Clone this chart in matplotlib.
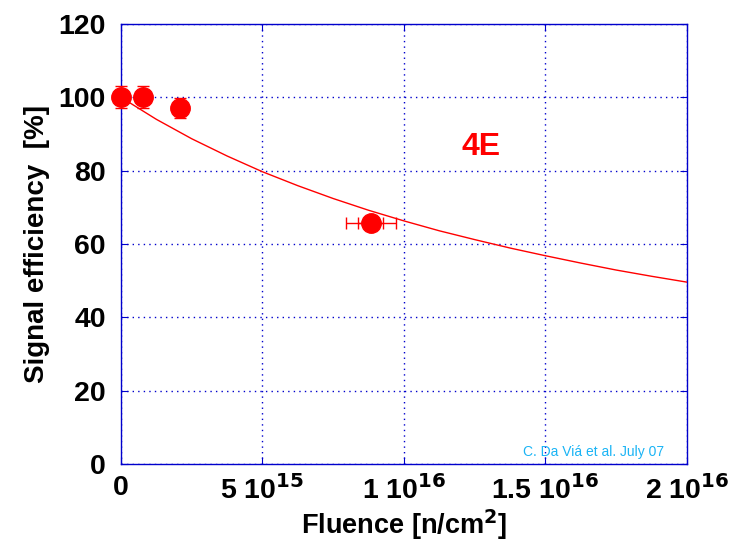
import matplotlib
matplotlib.use("Agg")
import matplotlib.pyplot as plt
from matplotlib.ticker import FixedLocator, FixedFormatter

plt.rcParams['font.family'] = ['Liberation Sans', 'DejaVu Sans']

# Measured points
fluence = [0.0, 0.76e15, 2.08e15, 8.82e15]
efficiency = [100.0, 100.0, 97.0, 65.8]
eff_err = [3.0, 3.0, 2.7, 0.0]
flu_err_outer = [0.0, 0.0, 0.0, 0.88e15]
flu_err_inner = [0.0, 0.0, 0.0, 0.44e15]

# Trapping fit curve
fit_fluence = [0.0, 1.25e15, 2.5e15, 3.75e15, 5.0e15, 6.25e15, 7.5e15, 8.75e15,
               1.0e16, 1.125e16, 1.25e16, 1.375e16, 1.5e16, 1.625e16, 1.75e16,
               1.875e16, 2.0e16]
fit_eff = [100.0, 94.0, 88.7, 84.0, 79.7, 75.9, 72.4, 69.2, 66.3, 63.6, 61.2,
           58.9, 56.8, 54.8, 52.9, 51.2, 49.6]

x_ticks = [0, 5e15, 1e16, 1.5e16, 2e16]
x_labels = ['0', r'5 10$^{\mathbf{15}}$', r'1 10$^{\mathbf{16}}$',
            r'1.5 10$^{\mathbf{16}}$', r'2 10$^{\mathbf{16}}$']
y_ticks = [0, 20, 40, 60, 80, 100, 120]

red = '#ff0000'
blue = '#0000cc'

fig = plt.figure(figsize=(7.32, 5.44), dpi=100)
ax = fig.add_axes([0.1653, 0.147, 0.7732, 0.8089])

ax.plot(fit_fluence, fit_eff, color=red, lw=1.0, zorder=3)

ax.errorbar(fluence, efficiency, xerr=flu_err_outer, yerr=eff_err, fmt='none',
            ecolor=red, elinewidth=1.0, capsize=4.5, capthick=1.0, zorder=4,
            clip_on=False)
ax.errorbar(fluence, efficiency, xerr=flu_err_inner, fmt='none',
            ecolor=red, elinewidth=1.0, capsize=4.5, capthick=1.0, zorder=4,
            clip_on=False)
ax.plot(fluence, efficiency, 'o', color=red, ms=14, mec=red, zorder=5,
        clip_on=False)

ax.set_xlim(0, 2e16)
ax.set_ylim(0, 120)
ax.xaxis.set_major_locator(FixedLocator(x_ticks))
ax.xaxis.set_major_formatter(FixedFormatter(x_labels))
ax.set_yticks(y_ticks)

ax.grid(True, color=blue, linestyle=(0, (1, 3)), linewidth=1.0)
for s in ax.spines.values():
    s.set_color(blue)
    s.set_linewidth(1.0)
ax.tick_params(direction='in', length=5, color=blue, top=True, right=True,
               labelsize=20.5, pad=8)
ax.tick_params(axis='y', pad=11)
for lab in ax.get_xticklabels() + ax.get_yticklabels():
    lab.set_fontweight('bold')

ax.set_xlabel(r'Fluence [n/cm$^{\mathbf{2}}$]', fontsize=19.5, fontweight='bold',
              labelpad=2)
ax.set_ylabel('Signal efficiency  [%]', fontsize=20, fontweight='bold',
              labelpad=6)

ax.text(1.272e16, 86.4, '4E', color=red, fontsize=23, fontweight='bold',
        ha='center', va='center')
ax.text(1.671e16, 3.3, 'C. Da Viá et al. July 07', color='#1ab4f5',
        fontsize=10, ha='center', va='center')

fig.savefig('out.png', dpi=100)
